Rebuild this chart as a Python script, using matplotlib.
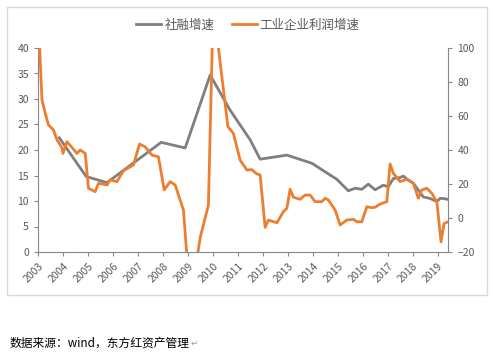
import numpy as np
import matplotlib
matplotlib.use("Agg")
import matplotlib.pyplot as plt
from matplotlib.patches import Rectangle

plt.rcParams['font.family'] = ['Noto Sans CJK SC', 'DejaVu Sans']

# 社融增速 (左轴)
tsf_t = [2003.85, 2004.93, 2005.76, 2007.93, 2008.89, 2009.89, 2010.69, 2011.49,
         2011.89, 2012.96, 2013.96, 2014.96, 2015.42, 2015.69, 2015.96, 2016.22,
         2016.49, 2016.82, 2017.02, 2017.22, 2017.49, 2017.62, 2017.76, 2018.02,
         2018.42, 2018.69, 2018.96, 2019.09, 2019.22, 2019.42]
tsf_v = [22.4, 14.8, 13.6, 21.5, 20.4, 34.7, 27.8, 22.0,
         18.2, 19.0, 17.4, 14.25, 12.0, 12.5, 12.3, 13.3,
         12.2, 13.1, 12.8, 14.4, 14.6, 14.9, 14.3, 13.5,
         10.8, 10.5, 9.9, 10.5, 10.5, 10.3]

# 工业企业利润增速 (右轴)
prof_t = [2003.02, 2003.16, 2003.29, 2003.42, 2003.62, 2003.76, 2003.96, 2004.0,
          2004.16, 2004.56, 2004.69, 2004.89, 2005.02, 2005.29, 2005.42, 2005.76,
          2005.89, 2006.16, 2006.42, 2006.82, 2007.06, 2007.29, 2007.56, 2007.82,
          2008.05, 2008.29, 2008.49, 2008.82, 2009.05, 2009.2, 2009.5, 2009.82,
          2010.0, 2010.22, 2010.6, 2010.82, 2011.09, 2011.36, 2011.55, 2011.75,
          2011.89, 2012.09, 2012.22, 2012.56, 2012.82, 2012.96, 2013.09, 2013.22,
          2013.49, 2013.69, 2013.89, 2014.09, 2014.36, 2014.49, 2014.62, 2014.89,
          2015.09, 2015.36, 2015.62, 2015.76, 2015.96, 2016.16, 2016.36, 2016.49,
          2016.69, 2016.96, 2017.09, 2017.22, 2017.49, 2017.76, 2018.02, 2018.22,
          2018.36, 2018.56, 2018.76, 2018.96, 2019.13, 2019.25, 2019.42]
prof_v = [115, 69.4, 61.6, 54.7, 51.8, 45.9, 41.2, 38,
          44.9, 38, 40, 38, 17.5, 15.5, 20.4, 19.4,
          22.4, 21.4, 27.8, 31.2, 43.5, 41.9, 37, 36,
          16.5, 21.4, 19.4, 4.7, -40, -38, -11, 7.6,
          118, 100, 53.7, 49.8, 34, 28.2, 28.5, 26,
          25.3, -5.5, -1.2, -2.8, 3.7, 5.7, 16.9, 12.2,
          11, 13.5, 13.5, 9.6, 9.6, 11.6, 10.6, 4.7,
          -4.1, -1.2, -0.8, -2.2, -2.2, 6.6, 6.1, 6.3,
          8.2, 9.6, 31.8, 26.3, 21.4, 22.8, 20.4, 11.6,
          16.5, 17.5, 14.5, 9.6, -14, -3.2, -2.2]

years = list(range(2003, 2020))

gray = '#7f7f7f'
orange = '#ED7D31'
txt = '#595959'
spine = '#868686'

fig = plt.figure(figsize=(4.93, 3.62), dpi=100)
fig.patches.append(Rectangle((7/493, 1-295/362), 480/493, 288/362, transform=fig.transFigure,
                             fill=False, edgecolor='#d9d9d9', linewidth=1))
ax = fig.add_axes([38/493, 1-252/362, (448.3-38)/493, 204/362])
ax2 = ax.twinx()

l1, = ax.plot(tsf_t, tsf_v, color=gray, lw=2.0, label='社融增速')
l2, = ax2.plot(prof_t, prof_v, color=orange, lw=2.0, label='工业企业利润增速')

ax.set_xlim(2003, 2019.42)
ax.set_ylim(0, 40)
ax2.set_ylim(-20, 100)
ax.set_yticks(np.arange(0, 41, 5))
ax2.set_yticks(np.arange(-20, 101, 20))
ax.set_xticks(years)
ax.set_xticklabels([str(y) for y in years], rotation=45, ha='right', rotation_mode='anchor')

for a in (ax, ax2):
    a.spines['top'].set_visible(False)
    for s in ('left', 'right', 'bottom'):
        a.spines[s].set_color(spine)
    a.tick_params(colors=spine, labelcolor=txt, labelsize=7.5, length=3, width=0.8)
ax.spines['right'].set_visible(False)
ax2.spines['left'].set_visible(False)
ax2.spines['bottom'].set_visible(False)

fig.legend(handles=[l1, l2], loc='center', bbox_to_anchor=(0.503, 0.931), ncol=2,
           frameon=False, fontsize=9, labelcolor=txt, handlelength=2.0, columnspacing=1.4,
           handletextpad=0.25)

fig.text(10/493, 1-343/362, '数据来源：wind，东方红资产管理', fontsize=8.5, color='black', va='center')
fig.text(191/493, 1-343/362, '↵', fontsize=6, color='#999999', va='center')

fig.savefig('out.png', dpi=100)
